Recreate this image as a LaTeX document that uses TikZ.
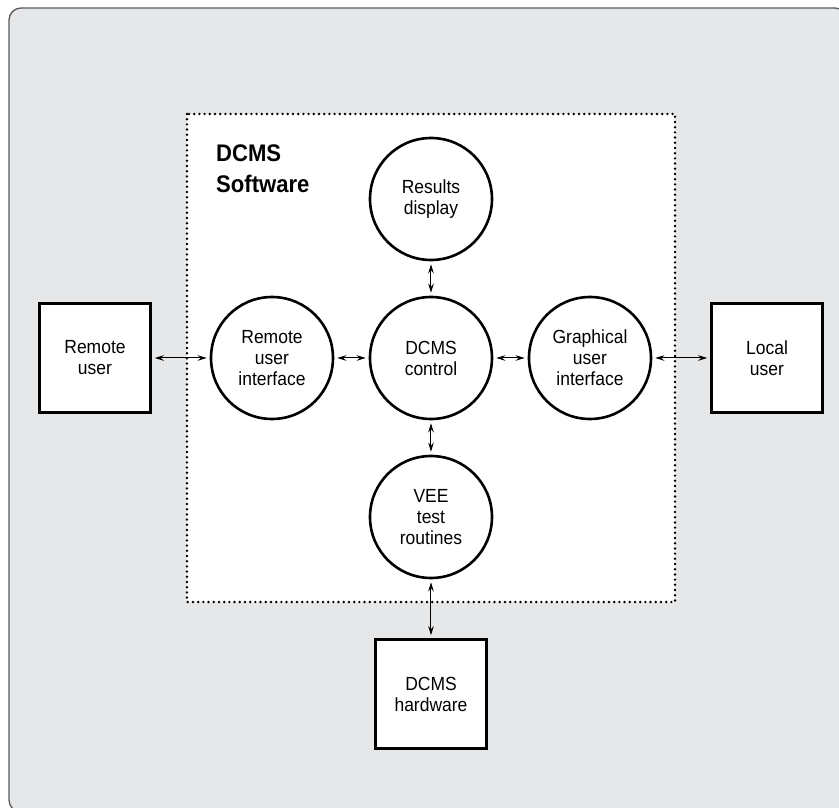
\documentclass[tikz,border=0pt]{standalone}
\usepackage{fontspec}
\setmainfont[FakeStretch=0.92]{Liberation Sans}
\usetikzlibrary{arrows.meta}
\definecolor{panelgray}{HTML}{E6E7E9}
\definecolor{panelline}{HTML}{5A5B5D}

\begin{document}
\begin{tikzpicture}[x=1pt, y=1pt,
    proc/.style={circle, draw, line width=2.6pt, fill=white, minimum size=122pt, inner sep=0pt, align=center, font=\fontsize{19}{21}\selectfont},
    ext/.style={rectangle, draw, line width=2.6pt, fill=white, minimum width=111pt, minimum height=109pt, inner sep=0pt, align=center, font=\fontsize{19}{21}\selectfont},
    link/.style={{Stealth[length=9pt,width=5.5pt]}-{Stealth[length=9pt,width=5.5pt]}, line width=1pt, shorten <=3pt, shorten >=3pt}]
    \useasboundingbox (-431,-450) rectangle (408,358);
    % panel and software boundary
    \draw[panelline, fill=panelgray, line width=1.3pt, rounded corners=12pt] (-422,350) rectangle (416,-454);
    \draw[fill=white, line width=2.7pt, dash pattern=on 0pt off 5.2pt, line cap=round] (-244,244) rectangle (244,-244);
    \node[anchor=north west, inner sep=0pt, align=left, font=\bfseries\fontsize{24}{31}\selectfont] (title) at (-215,213) {DCMS\\Software};

    \node[proc] (control) at (0,0) {DCMS\\control};
    \node[proc] (results) at (0,159) {Results\\display};
    \node[proc] (vee) at (0,-159) {VEE\\test\\routines};
    \node[proc] (remoteui) at (-159,0) {Remote\\user\\interface};
    \node[proc] (gui) at (159,0) {Graphical\\user\\interface};
    \node[ext] (remote) at (-336,0) {Remote\\user};
    \node[ext] (local) at (336,0) {Local\\user};
    \node[ext] (hardware) at (0,-336) {DCMS\\hardware};

    \foreach \a/\b in {remote/remoteui, remoteui/control, control/gui, gui/local, results/control, control/vee, vee/hardware}
        \draw[link] (\a) -- (\b);
\end{tikzpicture}
\end{document}
